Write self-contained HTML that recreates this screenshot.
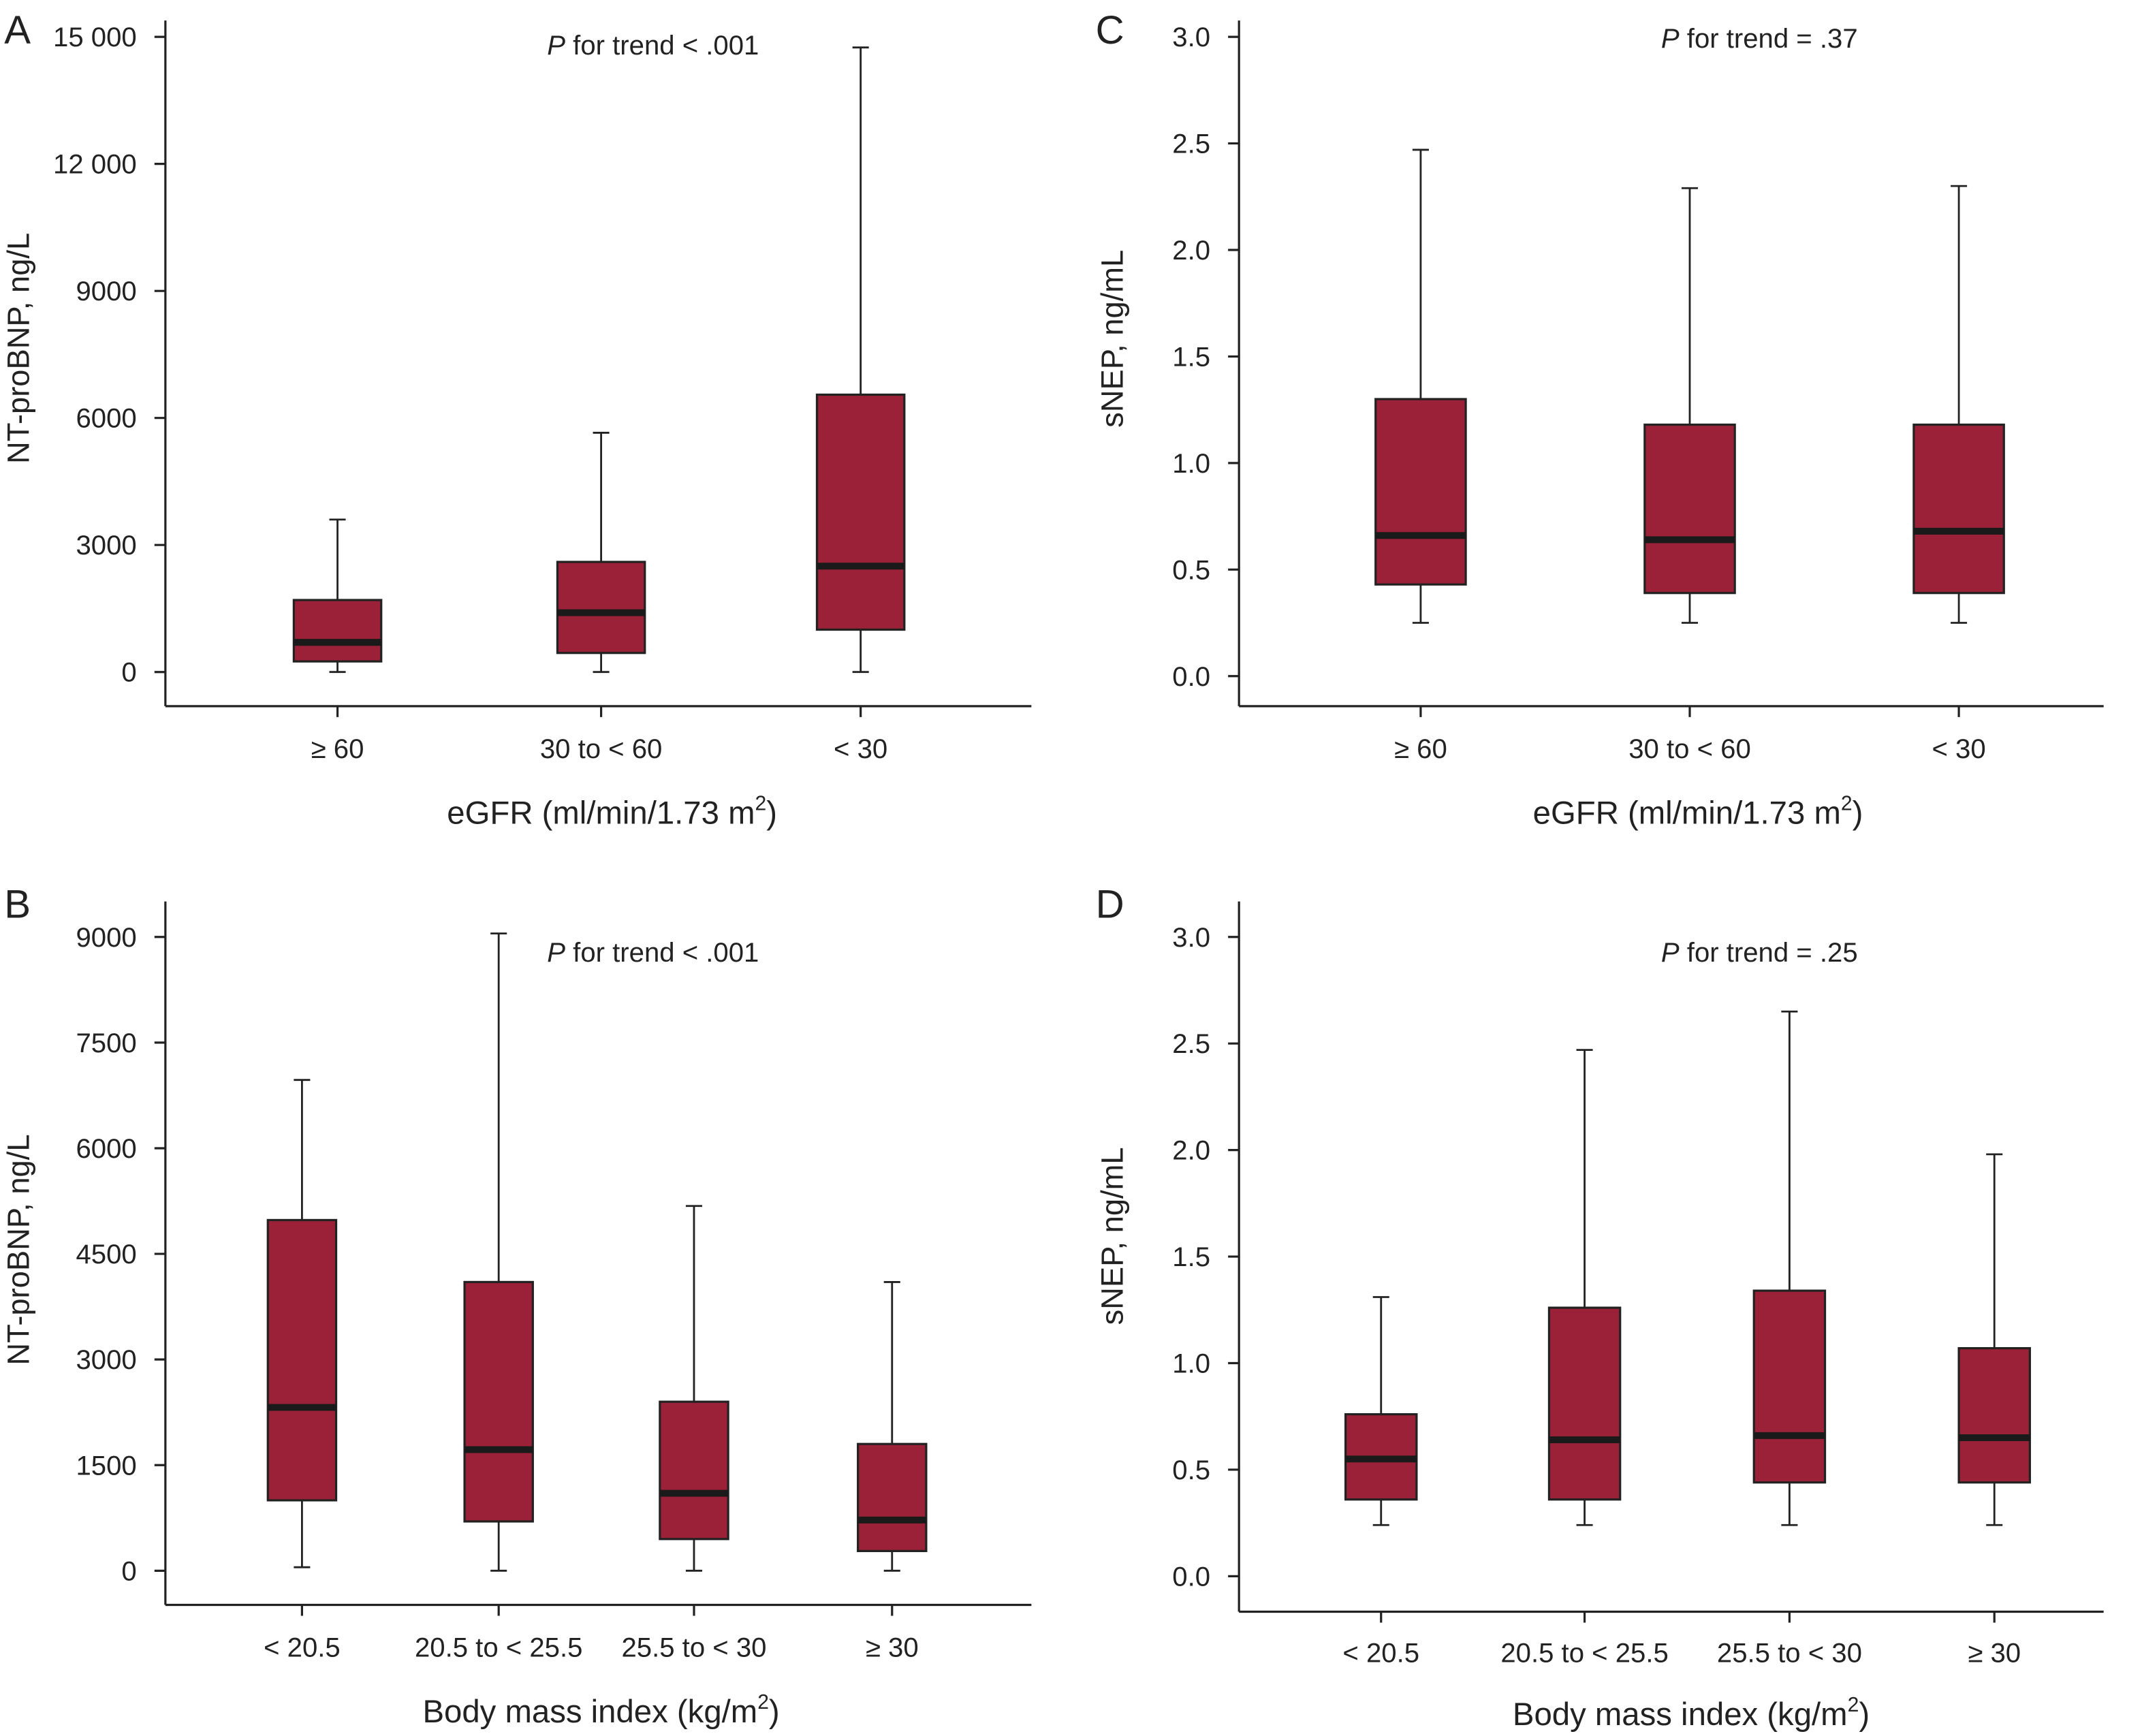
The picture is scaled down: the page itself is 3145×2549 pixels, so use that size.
<!DOCTYPE html>
<html><head><meta charset="utf-8"><style>
html,body{margin:0;padding:0;background:#fff;}
svg{display:block;font-family:"Liberation Sans",Arial,sans-serif;}
</style></head><body>
<svg id="fig" width="3145" height="2549" viewBox="0 0 1568 1271" xmlns="http://www.w3.org/2000/svg"></svg>
<script>
// Panel A data
const catsA = ["\u2265 60","30 to < 60","< 30"];
const minA = [0,0,0];
const q1A = [250,450,1000];
const medA = [700,1400,2500];
const q3A = [1700,2600,6550];
const maxA = [3600,5650,14750];
const ticksA = [0,3000,6000,9000,12000,15000];
const tickLabA = ["0","3000","6000","9000","12 000","15 000"];
// Panel C data
const catsC = ["\u2265 60","30 to < 60","< 30"];
const minC = [0.25,0.25,0.25];
const q1C = [0.43,0.39,0.39];
const medC = [0.66,0.64,0.68];
const q3C = [1.30,1.18,1.18];
const maxC = [2.47,2.29,2.30];
const ticksC = [0,0.5,1,1.5,2,2.5,3];
const tickLabC = ["0.0","0.5","1.0","1.5","2.0","2.5","3.0"];
// Panel B data
const catsB = ["< 20.5","20.5 to < 25.5","25.5 to < 30","\u2265 30"];
const minB = [50,0,0,0];
const q1B = [1000,700,450,280];
const medB = [2320,1720,1100,720];
const q3B = [4980,4100,2400,1800];
const maxB = [6970,9050,5180,4100];
const ticksB = [0,1500,3000,4500,6000,7500,9000];
const tickLabB = ["0","1500","3000","4500","6000","7500","9000"];
// Panel D data
const catsD = ["< 20.5","20.5 to < 25.5","25.5 to < 30","\u2265 30"];
const minD = [0.24,0.24,0.24,0.24];
const q1D = [0.36,0.36,0.44,0.44];
const medD = [0.55,0.64,0.66,0.65];
const q3D = [0.76,1.26,1.34,1.07];
const maxD = [1.31,2.47,2.65,1.98];
const ticksD = [0,0.5,1,1.5,2,2.5,3];
const tickLabD = ["0.0","0.5","1.0","1.5","2.0","2.5","3.0"];

const NS="http://www.w3.org/2000/svg";
const svg=document.getElementById('fig');
function mk(tag,attrs,parent,text){const e=document.createElementNS(NS,tag);for(const k in attrs)e.setAttribute(k,attrs[k]);if(text!==undefined)e.textContent=text;(parent||svg).appendChild(e);return e;}

function panel(cfg){
  const g=mk('g',{});
  
  
  const y=v=>cfg.y0+(v-cfg.v0)*(cfg.y1-cfg.y0)/(cfg.v1-cfg.v0);
  const ya=mk('line',{x1:cfg.ax,x2:cfg.ax,y1:cfg.top,y2:cfg.bot,stroke:'#222','stroke-width':1.6},g);
  
  
  const xa=mk('line',{x1:cfg.ax,x2:cfg.right,y1:cfg.bot,y2:cfg.bot,stroke:'#222','stroke-width':1.6},g);
  
  
  cfg.ticks.forEach((t,i)=>{
    const yy=y(t);
    mk('line',{x1:cfg.ax-8,x2:cfg.ax,y1:yy,y2:yy,stroke:'#222','stroke-width':1.6},g);
    const tl=mk('text',{x:cfg.ax-21,y:yy+7,'text-anchor':'end','font-size':20,fill:'#222'},g,cfg.tickLab[i]);
    
    
  });
  cfg.cats.forEach((c,i)=>{
    const cx=cfg.xs[i];
    mk('line',{x1:cx,x2:cx,y1:cfg.bot,y2:cfg.bot+8,stroke:'#222','stroke-width':1.6},g);
    const cl=mk('text',{x:cx,y:cfg.catY,'text-anchor':'middle','font-size':20,fill:'#222'},g,c);
    
    
    const hw=cfg.bw/2;
    const w=mk('line',{x1:cx,x2:cx,y1:y(cfg.max[i]),y2:y(cfg.min[i]),stroke:'#222','stroke-width':1.4},g);
    
    
    mk('line',{x1:cx-6,x2:cx+6,y1:y(cfg.max[i]),y2:y(cfg.max[i]),stroke:'#222','stroke-width':1.4},g);
    mk('line',{x1:cx-6,x2:cx+6,y1:y(cfg.min[i]),y2:y(cfg.min[i]),stroke:'#222','stroke-width':1.4},g);
    const b=mk('rect',{x:cx-hw,y:y(cfg.q3[i]),width:cfg.bw,height:y(cfg.q1[i])-y(cfg.q3[i]),fill:'#9a2137',stroke:'#222','stroke-width':1.6},g);
    
    
    const m=mk('line',{x1:cx-hw,x2:cx+hw,y1:y(cfg.med[i]),y2:y(cfg.med[i]),stroke:'#1a1a1a','stroke-width':5},g);
    
    
  });
  const yt=mk('text',{x:0,y:0,'text-anchor':'middle','font-size':22.6,fill:'#222',transform:`translate(${cfg.ytX},${cfg.ytY}) rotate(-90)`},g,cfg.ytitle);
  
  
  const xt=mk('text',{x:cfg.xtX,y:cfg.xtY,'text-anchor':'middle','font-size':23.6,fill:'#222'},g);
  
  
  xt.innerHTML=cfg.xtitle;
  const p=mk('text',{x:cfg.pX,y:cfg.pY,'text-anchor':'middle','font-size':20,fill:'#222'},g);
  
  
  p.innerHTML='<tspan font-style="italic">P</tspan> for trend '+cfg.ptxt;
  const L=mk('text',{x:cfg.lX,y:cfg.lY,'font-size':29,fill:'#222'},g,cfg.id);
  
  
}
const egfr='eGFR (ml/min/1.73 m<tspan font-size="15" dy="-10">2</tspan><tspan dy="10">)</tspan>';
const bmi='Body mass index (kg/m<tspan font-size="15" dy="-10">2</tspan><tspan dy="10">)</tspan>';
panel({id:'A',ax:121,right:755,top:15,bot:517,v0:0,v1:15000,y0:492,y1:27,ticks:ticksA,tickLab:tickLabA,cats:catsA,xs:[247,440,630],bw:64,
  min:minA,q1:q1A,med:medA,q3:q3A,max:maxA,catY:555,ytitle:'NT-proBNP, ng/L',ytX:21,ytY:255,xtitle:egfr,xtX:448,xtY:603,pX:478,pY:40,ptxt:'&lt; .001',lX:3,lY:32});
panel({id:'C',ax:907,right:1540,top:15,bot:517,v0:0,v1:3,y0:495,y1:27,ticks:ticksC,tickLab:tickLabC,cats:catsC,xs:[1040,1237,1434],bw:66,
  min:minC,q1:q1C,med:medC,q3:q3C,max:maxC,catY:555,ytitle:'sNEP, ng/mL',ytX:822,ytY:248,xtitle:egfr,xtX:1243,xtY:603,pX:1288,pY:35,ptxt:'= .37',lX:802,lY:32});
panel({id:'B',ax:121,right:755,top:660,bot:1175,v0:0,v1:9000,y0:1150,y1:686,ticks:ticksB,tickLab:tickLabB,cats:catsB,xs:[221,365,508,653],bw:50,
  min:minB,q1:q1B,med:medB,q3:q3B,max:maxB,catY:1213,ytitle:'NT-proBNP, ng/L',ytX:21,ytY:915,xtitle:bmi,xtX:440,xtY:1261,pX:478,pY:704,ptxt:'&lt; .001',lX:3,lY:672});
panel({id:'D',ax:907,right:1540,top:660,bot:1180,v0:0,v1:3,y0:1154,y1:686,ticks:ticksD,tickLab:tickLabD,cats:catsD,xs:[1011,1160,1310,1460],bw:52,
  min:minD,q1:q1D,med:medD,q3:q3D,max:maxD,catY:1217,ytitle:'sNEP, ng/mL',ytX:822,ytY:905,xtitle:bmi,xtX:1238,xtY:1263,pX:1288,pY:704,ptxt:'= .25',lX:802,lY:672});
</script>
</body></html>
